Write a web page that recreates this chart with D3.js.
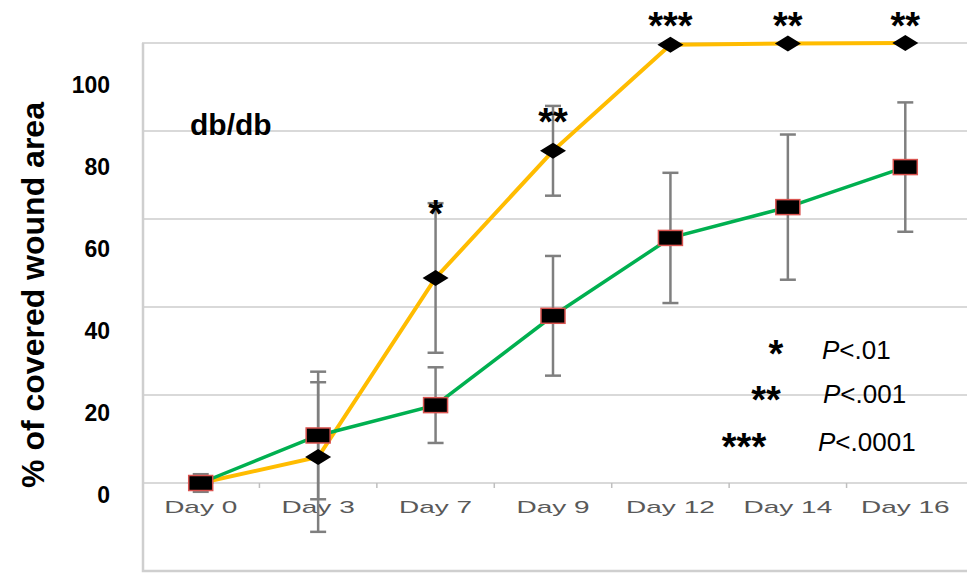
<!DOCTYPE html>
<html>
<head>
<meta charset="utf-8">
<script src="https://cdn.jsdelivr.net/npm/d3@7"></script>
<style>
  body { margin: 0; background: #fff; }
  svg { display: block; font-family: "Liberation Sans", Arial, sans-serif; }
</style>
</head>
<body>
<figure id="chart" style="margin:0"></figure>
<script>
const days = ["Day 0", "Day 3", "Day 7", "Day 9", "Day 12", "Day 14", "Day 16"];
const treated = [0, 5.9, 46.6, 75.5, 99.6, 99.9, 100];
const treatedErr = [2, 17, 17, 10.2, 0, 0, 0];
const control = [0, 10.8, 17.7, 38, 55.7, 62.7, 71.8];
const controlErr = [1.5, 14.5, 8.6, 13.6, 14.8, 16.5, 14.7];
const stars = ["", "", "*", "**", "***", "**", "**"];
const starLevel = [0, 0, 62.7, 83.6, 105.5, 105.5, 105.5];
const yTicks = [0, 20, 40, 60, 80, 100];
const gridTicks = [0, 20, 40, 60, 80, 100];
const legendStars = ["*", "**", "***"];
const legendP = [".01", ".001", ".0001"];

const width = 970, height = 576;

const svg = d3.select("#chart")
  .append("svg")
  .attr("width", width)
  .attr("height", height);

svg.append("rect").attr("width", width).attr("height", height).attr("fill", "#fff");

// scales
const x = d3.scaleBand().domain(days).range([142, 964]);
const cx = d => x(d) + x.bandwidth() / 2;
const y = d3.scaleLinear().domain([0, 100]).range([483, 43]);
// the tick numbers sit on their own spacing in the source image
const yLabel = d3.scaleLinear().domain([0, 100]).range([495, 85]);

// gridlines
svg.append("g")
  .selectAll("line")
  .data(gridTicks)
  .enter()
  .append("line")
  .attr("x1", 142)
  .attr("x2", 967)
  .attr("y1", d => y(d))
  .attr("y2", d => y(d))
  .attr("stroke", "#d9d9d9")
  .attr("stroke-width", 2);

// plot frame (left + bottom)
svg.append("path")
  .attr("d", "M143,43V571H967")
  .attr("fill", "none")
  .attr("stroke", "#cfcfcf")
  .attr("stroke-width", 2.5);

// x tick marks between categories
svg.append("g")
  .selectAll("line")
  .data(days.slice(1))
  .enter()
  .append("line")
  .attr("x1", d => x(d))
  .attr("x2", d => x(d))
  .attr("y1", y(0))
  .attr("y2", y(0) + 5)
  .attr("stroke", "#bfbfbf")
  .attr("stroke-width", 1.5);

// x labels (stretched like the original picture)
svg.append("g")
  .selectAll("text")
  .data(days)
  .enter()
  .append("text")
  .attr("transform", d => "translate(" + cx(d) + "," + (y(0) + 30) + ") scale(1.75,1)")
  .attr("text-anchor", "middle")
  .attr("font-size", 16)
  .attr("fill", "#595959")
  .text(d => d);

// y labels
svg.append("g")
  .selectAll("text")
  .data(yTicks)
  .enter()
  .append("text")
  .attr("x", 110)
  .attr("y", d => yLabel(d))
  .attr("dy", "0.36em")
  .attr("text-anchor", "end")
  .attr("font-size", 23)
  .attr("font-weight", "bold")
  .attr("fill", "#000")
  .text(d => d);

// y title
svg.append("text")
  .attr("transform", "translate(44,295) rotate(-90)")
  .attr("text-anchor", "middle")
  .attr("font-size", 32)
  .attr("font-weight", "bold")
  .text("% of covered wound area");

svg.append("text")
  .attr("x", 190)
  .attr("y", 135)
  .attr("font-size", 30)
  .attr("font-weight", "bold")
  .text("db/db");

// error bars
function errorBars(vals, errs) {
  const g = svg.append("g").attr("stroke", "#7f7f7f").attr("stroke-width", 2.5);
  days.forEach((d, i) => {
    if (!errs[i]) return;
    const hi = y(vals[i] + errs[i]), lo = y(vals[i] - errs[i]);
    g.append("line").attr("x1", cx(d)).attr("x2", cx(d)).attr("y1", hi).attr("y2", lo);
    g.append("line").attr("x1", cx(d) - 8).attr("x2", cx(d) + 8).attr("y1", hi).attr("y2", hi);
    g.append("line").attr("x1", cx(d) - 8).attr("x2", cx(d) + 8).attr("y1", lo).attr("y2", lo);
  });
}
errorBars(treated, treatedErr);
errorBars(control, controlErr);

const line = d3.line()
  .x((d, i) => cx(days[i]))
  .y(d => y(d));

svg.append("path")
  .datum(treated)
  .attr("d", line)
  .attr("fill", "none")
  .attr("stroke", "#ffbc00")
  .attr("stroke-width", 4);

svg.append("path")
  .datum(control)
  .attr("d", line)
  .attr("fill", "none")
  .attr("stroke", "#00b050")
  .attr("stroke-width", 3.5);

// diamonds
svg.append("g")
  .selectAll("path")
  .data(treated)
  .enter()
  .append("path")
  .attr("d", (d, i) => {
    const px = cx(days[i]), py = y(d);
    return "M" + (px - 13) + "," + py + "L" + px + "," + (py - 8) + "L" + (px + 13) + "," + py + "L" + px + "," + (py + 8) + "Z";
  })
  .attr("fill", "#000");

// squares
svg.append("g")
  .selectAll("rect")
  .data(control)
  .enter()
  .append("rect")
  .attr("x", (d, i) => cx(days[i]) - 12)
  .attr("y", d => y(d) - 7.5)
  .attr("width", 24)
  .attr("height", 15)
  .attr("fill", "#000")
  .attr("stroke", "#d9534f")
  .attr("stroke-width", 1.5);

// significance stars
svg.append("g")
  .selectAll("text")
  .data(stars)
  .enter()
  .append("text")
  .attr("x", (d, i) => cx(days[i]))
  .attr("y", (d, i) => y(starLevel[i]) + 20)
  .attr("text-anchor", "middle")
  .attr("font-size", 38)
  .attr("font-weight", "bold")
  .text(d => d);

// p-value key
const key = svg.append("g");
const keyStarX = [776, 766, 744];
const keyStarY = [347, 393, 440];
const keyPX = [822, 823, 818];
const keyY = [359, 403, 451];
legendStars.forEach((s, i) => {
  key.append("text")
    .attr("x", keyStarX[i])
    .attr("y", keyStarY[i] + 20)
    .attr("text-anchor", "middle")
    .attr("font-size", 38)
    .attr("font-weight", "bold")
    .text(s);
  const t = key.append("text")
    .attr("x", keyPX[i])
    .attr("y", keyY[i])
    .attr("font-size", 26);
  t.append("tspan").attr("font-style", "italic").text("P");
  t.append("tspan").text("<" + legendP[i]);
});
</script>
</body>
</html>
